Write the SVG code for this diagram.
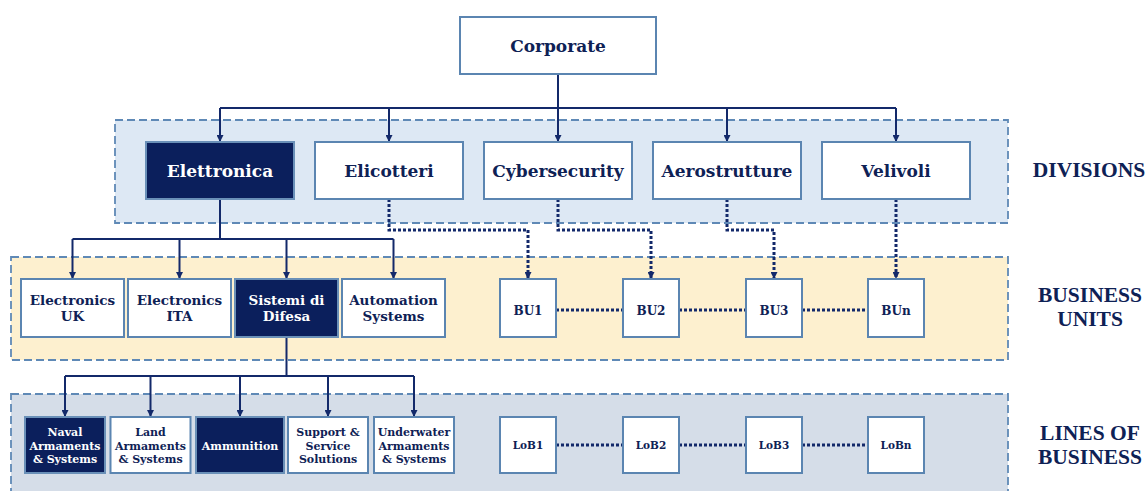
<svg xmlns="http://www.w3.org/2000/svg" width="1148" height="491" viewBox="0 0 1148 491">
  <style>
    .band { stroke: #5f89b6; stroke-width: 1.8; stroke-dasharray: 8 4; }
    .box { fill: #ffffff; stroke: #5b85b1; stroke-width: 2; }
    .box.dark { fill: #0b1f5c; stroke: #6a90b8; }
    text { font-family: "DejaVu Serif", "Liberation Serif", serif; font-weight: bold; fill: #0e2155; text-anchor: middle; }
    .dark-t { fill: #ffffff; }
    .t17 { font-size: 17px; }
    .t13 { font-size: 13.5px; }
    .t11 { font-size: 11px; }
    .t12 { font-size: 12px; }
    .t10 { font-size: 10.5px; }
    .tier { font-family: "Liberation Serif", "Times New Roman", serif; font-size: 21.5px; fill: #0e2155; }
    .solid { fill: none; stroke: #13296a; stroke-width: 2; }
    .dotted { fill: none; stroke: #13296a; stroke-width: 3; stroke-dasharray: 3 2; }
  </style>
  <defs>
    <marker id="arrow" viewBox="0 0 10 10" refX="10" refY="5" markerWidth="7" markerHeight="7" markerUnits="userSpaceOnUse" orient="auto">
      <path d="M0,0 L10,5 L0,10 z" fill="#13296a"/>
    </marker>
  </defs>

  <!-- tier bands -->
  <g id="bands">
    <rect class="band" x="115" y="120" width="893" height="103" fill="#dde8f4"/>
    <rect class="band" x="11" y="257" width="997" height="103" fill="#fdf0cf"/>
    <rect class="band" x="11" y="394" width="997" height="110" fill="#d5dde8"/>
  </g>

  <!-- connectors -->
  <g id="connectors">
    <path class="solid" d="M558,74 V142" marker-end="url(#arrow)"/>
    <path class="solid" d="M220,108 H896"/>
    <path class="solid" d="M220,108 V142" marker-end="url(#arrow)"/>
    <path class="solid" d="M389,108 V142" marker-end="url(#arrow)"/>
    <path class="solid" d="M727,108 V142" marker-end="url(#arrow)"/>
    <path class="solid" d="M896,108 V142" marker-end="url(#arrow)"/>

    <path class="solid" d="M220,199 V239"/>
    <path class="solid" d="M72.5,239 H393.5"/>
    <path class="solid" d="M72.5,239 V279" marker-end="url(#arrow)"/>
    <path class="solid" d="M179.5,239 V279" marker-end="url(#arrow)"/>
    <path class="solid" d="M286.5,239 V279" marker-end="url(#arrow)"/>
    <path class="solid" d="M393.5,239 V279" marker-end="url(#arrow)"/>

    <path class="solid" d="M286.5,337 V376"/>
    <path class="solid" d="M65,376 H414"/>
    <path class="solid" d="M65,376 V417" marker-end="url(#arrow)"/>
    <path class="solid" d="M150.5,376 V417" marker-end="url(#arrow)"/>
    <path class="solid" d="M240,376 V417" marker-end="url(#arrow)"/>
    <path class="solid" d="M328,376 V417" marker-end="url(#arrow)"/>
    <path class="solid" d="M414,376 V417" marker-end="url(#arrow)"/>

    <path class="dotted" d="M389,199 V230 H528 V279" marker-end="url(#arrow)"/>
    <path class="dotted" d="M558,199 V230 H651 V279" marker-end="url(#arrow)"/>
    <path class="dotted" d="M727,199 V230 H774 V279" marker-end="url(#arrow)"/>
    <path class="dotted" d="M896,199 V279" marker-end="url(#arrow)"/>

    <path class="dotted" d="M556,310 H623 M679,310 H746 M802,310 H868"/>
    <path class="dotted" d="M556,445 H623 M679,445 H746 M802,445 H868"/>
  </g>

  <!-- corporate -->
  <g id="corporate">
    <rect class="box" x="460" y="17" width="196" height="57"/>
    <text class="t17" x="558" y="52">Corporate</text>
  </g>

  <!-- divisions -->
  <g id="div-elettronica">
    <rect class="box dark" x="146" y="142" width="148" height="57"/>
    <text class="t17 dark-t" x="220" y="177">Elettronica</text>
  </g>
  <g id="div-elicotteri">
    <rect class="box" x="315" y="142" width="148" height="57"/>
    <text class="t17" x="389" y="177">Elicotteri</text>
  </g>
  <g id="div-cybersecurity">
    <rect class="box" x="484" y="142" width="148" height="57"/>
    <text class="t17" x="558" y="177">Cybersecurity</text>
  </g>
  <g id="div-aerostrutture">
    <rect class="box" x="653" y="142" width="148" height="57"/>
    <text class="t17" x="727" y="177">Aerostrutture</text>
  </g>
  <g id="div-velivoli">
    <rect class="box" x="822" y="142" width="148" height="57"/>
    <text class="t17" x="896" y="177">Velivoli</text>
  </g>

  <!-- business units -->
  <g id="bu-electronics-uk">
    <rect class="box" x="21" y="279" width="103" height="58"/>
    <text class="t13" x="72.5" y="305">Electronics</text>
    <text class="t13" x="72.5" y="321">UK</text>
  </g>
  <g id="bu-electronics-ita">
    <rect class="box" x="128" y="279" width="103" height="58"/>
    <text class="t13" x="179.5" y="305">Electronics</text>
    <text class="t13" x="179.5" y="321">ITA</text>
  </g>
  <g id="bu-sistemi-difesa">
    <rect class="box dark" x="235" y="279" width="103" height="58"/>
    <text class="t13 dark-t" x="286.5" y="305">Sistemi di</text>
    <text class="t13 dark-t" x="286.5" y="321">Difesa</text>
  </g>
  <g id="bu-automation">
    <rect class="box" x="342" y="279" width="103" height="58"/>
    <text class="t13" x="393.5" y="305">Automation</text>
    <text class="t13" x="393.5" y="321">Systems</text>
  </g>
  <g id="bu1">
    <rect class="box" x="500" y="279" width="56" height="58"/>
    <text class="t12" x="528" y="315">BU1</text>
  </g>
  <g id="bu2">
    <rect class="box" x="623" y="279" width="56" height="58"/>
    <text class="t12" x="651" y="315">BU2</text>
  </g>
  <g id="bu3">
    <rect class="box" x="746" y="279" width="56" height="58"/>
    <text class="t12" x="774" y="315">BU3</text>
  </g>
  <g id="bun">
    <rect class="box" x="868" y="279" width="56" height="58"/>
    <text class="t12" x="896" y="315">BUn</text>
  </g>

  <!-- lines of business -->
  <g id="lob-naval">
    <rect class="box dark" x="25" y="417" width="80" height="56"/>
    <text class="t11 dark-t" x="65" y="436">Naval</text>
    <text class="t11 dark-t" x="65" y="449.5">Armaments</text>
    <text class="t11 dark-t" x="65" y="463">&amp; Systems</text>
  </g>
  <g id="lob-land">
    <rect class="box" x="110.5" y="417" width="80" height="56"/>
    <text class="t11" x="150.5" y="436">Land</text>
    <text class="t11" x="150.5" y="449.5">Armaments</text>
    <text class="t11" x="150.5" y="463">&amp; Systems</text>
  </g>
  <g id="lob-ammunition">
    <rect class="box dark" x="196" y="417" width="88" height="56"/>
    <text class="t11 dark-t" x="240" y="449.5">Ammunition</text>
  </g>
  <g id="lob-support">
    <rect class="box" x="288" y="417" width="80" height="56"/>
    <text class="t11" x="328" y="436">Support &amp;</text>
    <text class="t11" x="328" y="449.5">Service</text>
    <text class="t11" x="328" y="463">Solutions</text>
  </g>
  <g id="lob-underwater">
    <rect class="box" x="374" y="417" width="80" height="56"/>
    <text class="t11" x="414" y="436">Underwater</text>
    <text class="t11" x="414" y="449.5">Armaments</text>
    <text class="t11" x="414" y="463">&amp; Systems</text>
  </g>
  <g id="lob1">
    <rect class="box" x="500" y="417" width="56" height="56"/>
    <text class="t10" x="528" y="449">LoB1</text>
  </g>
  <g id="lob2">
    <rect class="box" x="623" y="417" width="56" height="56"/>
    <text class="t10" x="651" y="449">LoB2</text>
  </g>
  <g id="lob3">
    <rect class="box" x="746" y="417" width="56" height="56"/>
    <text class="t10" x="774" y="449">LoB3</text>
  </g>
  <g id="lobn">
    <rect class="box" x="868" y="417" width="56" height="56"/>
    <text class="t10" x="896" y="449">LoBn</text>
  </g>

  <!-- tier labels -->
  <g id="tier-labels">
    <text class="tier" x="1089" y="177">DIVISIONS</text>
    <text class="tier" x="1090" y="302">BUSINESS</text>
    <text class="tier" x="1090" y="326">UNITS</text>
    <text class="tier" x="1090" y="440">LINES OF</text>
    <text class="tier" x="1090" y="464">BUSINESS</text>
  </g>
</svg>
